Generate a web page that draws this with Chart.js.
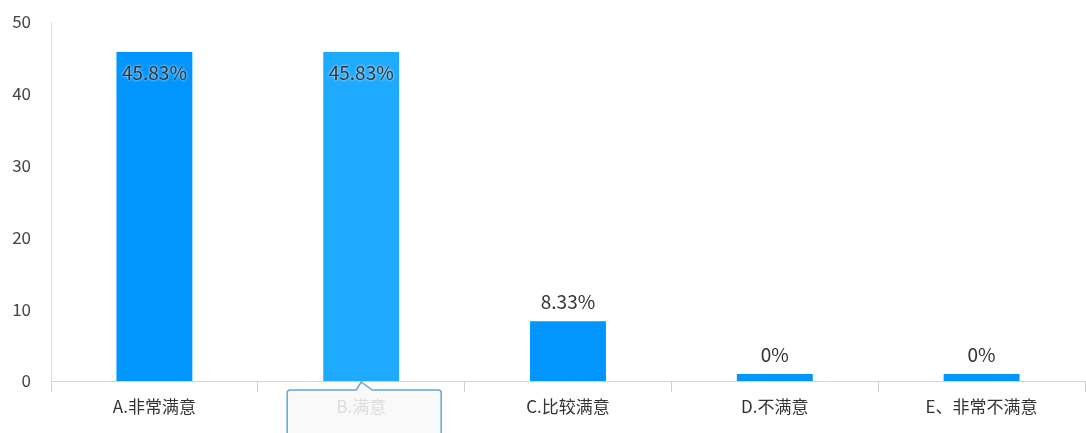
<!DOCTYPE html>
<html>
<head>
<meta charset="utf-8">
<script src="https://cdn.jsdelivr.net/npm/chart.js@4/dist/chart.umd.min.js"></script>
<style>
    html, body {
        margin: 0;
        padding: 0;
        background: #ffffff;
    }
    #chartBox {
        position: relative;
        width: 1086px;
        height: 433px;
    }
</style>
</head>
<body>
<div id="chartBox">
    <canvas id="satisfactionChart"></canvas>
</div>
<script>

const categories = [
    "A.非常满意",
    "B.满意",
    "C.比较满意",
    "D.不满意",
    "E、非常不满意"
];

const percentValues = [
    45.83,
    45.83,
    8.33,
    0,
    0
];

const valueLabels = [
    "45.83%",
    "45.83%",
    "8.33%",
    "0%",
    "0%"
];

const yTicks = [0, 10, 20, 30, 40, 50];

const FONT = "'Noto Sans CJK SC', 'Noto Sans', sans-serif";

const barColors = [
    "#0095ff",
    "#1eaaff",
    "#0095ff",
    "#0095ff",
    "#0095ff"
];

// draws the value text above each bar, or inside when too close to the top
const valueLabelPlugin = {

    id: "valueLabels",

    afterDatasetsDraw(chart) {

        const ctx = chart.ctx;
        const meta = chart.getDatasetMeta(0);
        const top = chart.chartArea.top;

        ctx.save();
        ctx.font = "19px " + FONT;
        ctx.textAlign = "center";
        ctx.textBaseline = "middle";
        ctx.fillStyle = "#333333";
        ctx.shadowColor = "rgba(255,255,255,1)";
        ctx.shadowBlur = 3;

        meta.data.forEach((bar, i) => {

            let y = bar.y - 19;

            if (y - 12 < top + 12) {
                y = bar.y + 21;
            }

            ctx.fillText(valueLabels[i], bar.x, y);

        });

        ctx.restore();

    }

};

// hover tooltip box seen below category B in the reference
const hoverBoxPlugin = {

    id: "hoverBox",

    afterDraw(chart) {

        const ctx = chart.ctx;
        const xScale = chart.scales.x;
        const cx = xScale.getPixelForValue(1) + 3;
        const tipY = chart.chartArea.bottom + 1;
        const boxTop = tipY + 8;
        const left = cx - 77;
        const right = cx + 77;
        const bottom = chart.height + 10;
        const r = 3;

        ctx.save();
        ctx.beginPath();
        ctx.moveTo(left + r, boxTop);
        ctx.lineTo(cx - 8, boxTop);
        ctx.lineTo(cx - 3, tipY);
        ctx.lineTo(cx + 8, boxTop);
        ctx.lineTo(right - r, boxTop);
        ctx.quadraticCurveTo(right, boxTop, right, boxTop + r);
        ctx.lineTo(right, bottom);
        ctx.lineTo(left, bottom);
        ctx.lineTo(left, boxTop + r);
        ctx.quadraticCurveTo(left, boxTop, left + r, boxTop);
        ctx.closePath();
        ctx.fillStyle = "rgba(248,248,248,0.86)";
        ctx.fill();
        ctx.lineWidth = 1.5;
        ctx.strokeStyle = "rgba(70,150,210,0.85)";
        ctx.stroke();
        ctx.restore();

    }

};

function renderChart() {

    const ctx =
        document.getElementById(
            "satisfactionChart"
        );

    new Chart(ctx, {

        type: "bar",

        data: {

            labels: categories,

            datasets: [
                {
                    data: percentValues,
                    backgroundColor: barColors,
                    borderWidth: 0,
                    barPercentage: 0.367,
                    categoryPercentage: 1,
                    minBarLength: 7
                }
            ]

        },

        options: {

            responsive: true,
            maintainAspectRatio: false,
            animation: false,

            layout: {
                padding: {
                    top: 0,
                    right: 1,
                    left: 10,
                    bottom: 0
                }
            },

            plugins: {
                legend: { display: false },
                tooltip: { enabled: false }
            },

            scales: {

                x: {
                    offset: true,
                    grid: {
                        offset: true,
                        drawOnChartArea: false,
                        drawTicks: true,
                        tickLength: 11,
                        color: "#d0d0d0"
                    },
                    border: {
                        display: true,
                        color: "#c9d6e3",
                        width: 1
                    },
                    ticks: {
                        color: "#333333",
                        padding: 4,
                        maxRotation: 0,
                        font: {
                            family: FONT,
                            size: 17
                        }
                    },
                    afterFit(scale) {
                        scale.height = 52;
                    }
                },

                y: {
                    min: 0,
                    max: 50,
                    afterBuildTicks(scale) {
                        scale.ticks = yTicks.map(
                            v => ({ value: v })
                        );
                    },
                    grid: {
                        display: false,
                        drawTicks: false
                    },
                    border: {
                        display: true,
                        color: "#dddddd",
                        width: 1
                    },
                    ticks: {
                        color: "#444444",
                        padding: 20,
                        font: {
                            family: FONT,
                            size: 17
                        }
                    },
                    afterFit(scale) {
                        scale.width = 41;
                        scale.paddingTop = 22;
                    }
                }

            }

        },

        plugins: [
            valueLabelPlugin,
            hoverBoxPlugin
        ]

    });

}

document.addEventListener(
    "DOMContentLoaded",
    renderChart
);

</script>
</body>
</html>
